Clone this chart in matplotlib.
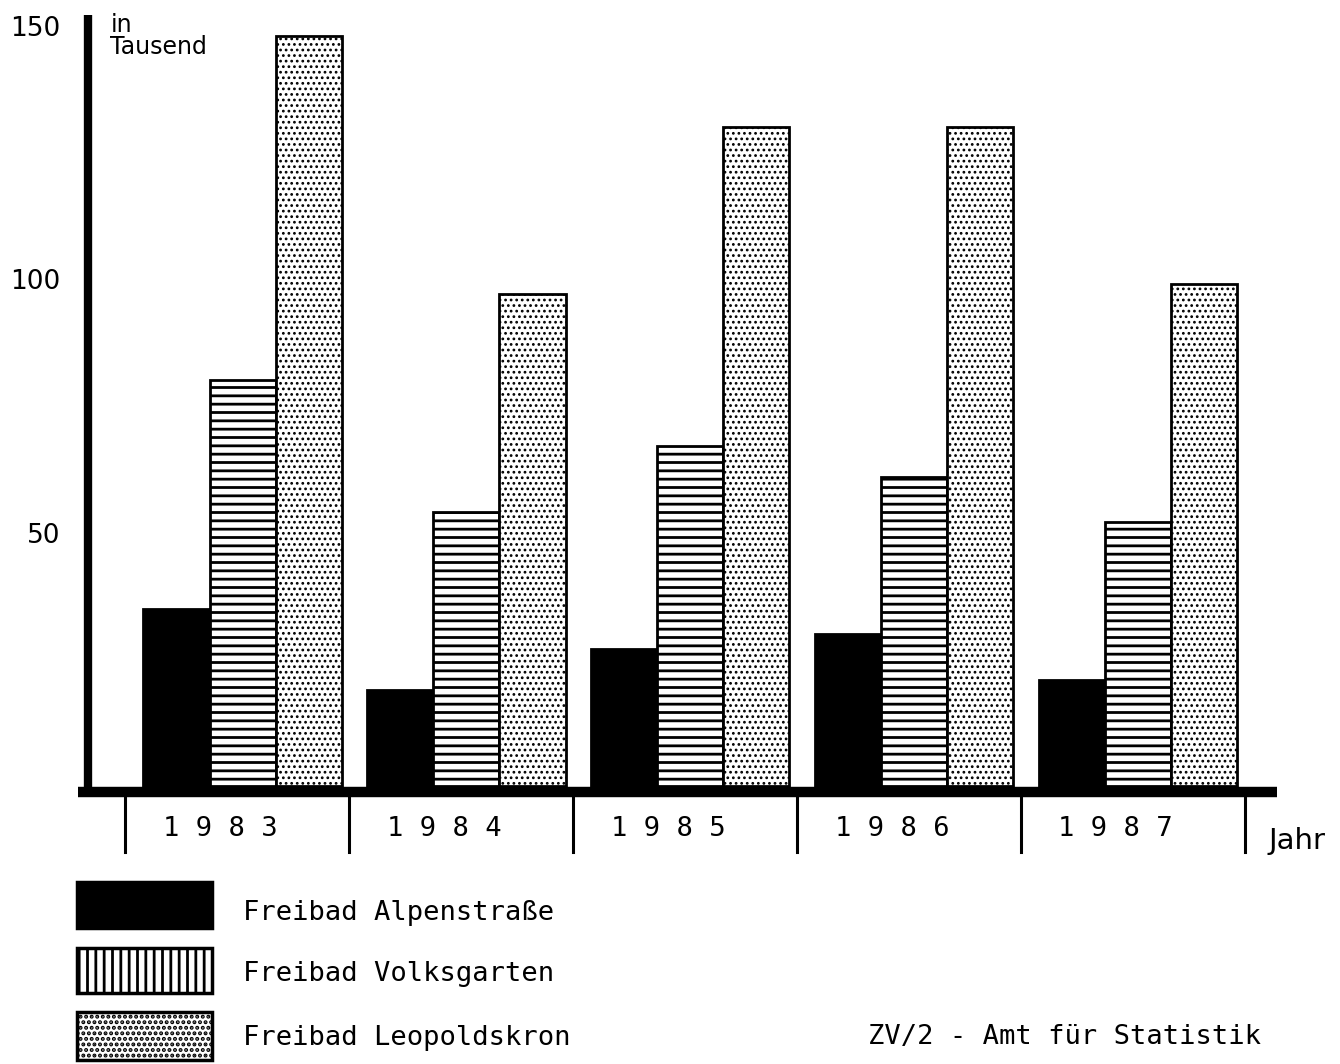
import matplotlib as mpl
mpl.use('Agg')
import matplotlib.pyplot as plt
from matplotlib.patches import Rectangle
import numpy as np

mpl.rcParams['hatch.linewidth'] = 2.0
mono = 'DejaVu Sans Mono'

# values, in thousands of visitors
years = ['1983', '1984', '1985', '1986', '1987']
alpen = [35, 19, 27, 30, 21]
volks = [80, 54, 67, 61, 52]
leopold = [148, 97, 130, 130, 99]
yticks = [50, 100, 150]
labels = ['Freibad Alpenstraße', 'Freibad Volksgarten', 'Freibad Leopoldskron']

W, H = 1340, 1064
fig = plt.figure(figsize=(W / 100, H / 100), dpi=100)
ax = fig.add_axes([78 / W, 1 - 801.2 / H, 1199 / W, 785.8 / H])
ax.set_xlim(-0.735, 4.62)
ax.set_ylim(-3, 152)

x = np.arange(len(years))
bw = 0.295
ax.bar(x - bw, alpen, bw, color='black', edgecolor='black', lw=2)
ax.bar(x, volks, bw, color='white', edgecolor='black', hatch='--', lw=2)
dots = ax.bar(x + bw, leopold, bw, color='white', edgecolor='black',
              hatch='...', lw=2)
for b in dots:
    if hasattr(b, 'set_hatch_linewidth'):
        b.set_hatch_linewidth(1.2)

# baseline and thick y axis
ax.plot([-0.735, 4.62], [-1.2, -1.2], color='black', lw=7.5, clip_on=False,
        solid_capstyle='butt')
ax.plot([-0.69, -0.69], [-1, 152], color='black', lw=6, clip_on=False,
        solid_capstyle='butt')

# group separators below the baseline
for i in range(len(years) + 1):
    ax.plot([i - 0.525, i - 0.525], [-2.2, -13], color='black', lw=2.2,
            clip_on=False)
for i, yr in enumerate(years):
    ax.text(i - 0.1, -8.4, ' '.join(yr), ha='center', va='center',
            fontsize=19.5, family=mono)
ax.text(4.58, -10.8, 'Jahr', ha='left', va='center', fontsize=21)

ax.set_yticks(yticks)
ax.set_yticklabels([str(t) for t in yticks], fontsize=19)
ax.tick_params(axis='y', length=0, pad=13)
ax.set_xticks([])
for s in ax.spines.values():
    s.set_visible(False)

ax.text(-0.59, 152.5, 'in\nTausend', ha='left', va='top', fontsize=17,
        linespacing=0.9)

# legend and footer drawn in pixel coords
lax = fig.add_axes([0, 0, 1, 1])
lax.set_xlim(0, W)
lax.set_ylim(H, 0)
lax.axis('off')
boxes = [(882, 928, 'black', None), (948, 993, 'white', '||'),
         (1012, 1060, 'white', '...')]
text_y = [913, 974, 1038]
for (y0, y1, fc, ht), ty, lab in zip(boxes, text_y, labels):
    lax.add_patch(Rectangle((77, y0), 135, y1 - y0, facecolor=fc,
                            edgecolor='black', hatch=ht, lw=2.5))
    lax.text(243, ty, lab, ha='left', va='center', fontsize=19.5, family=mono)
lax.text(868, 1037, 'ZV/2 - Amt für Statistik', ha='left', va='center',
         fontsize=19.5, family=mono)

fig.savefig('out.png', dpi=100)
